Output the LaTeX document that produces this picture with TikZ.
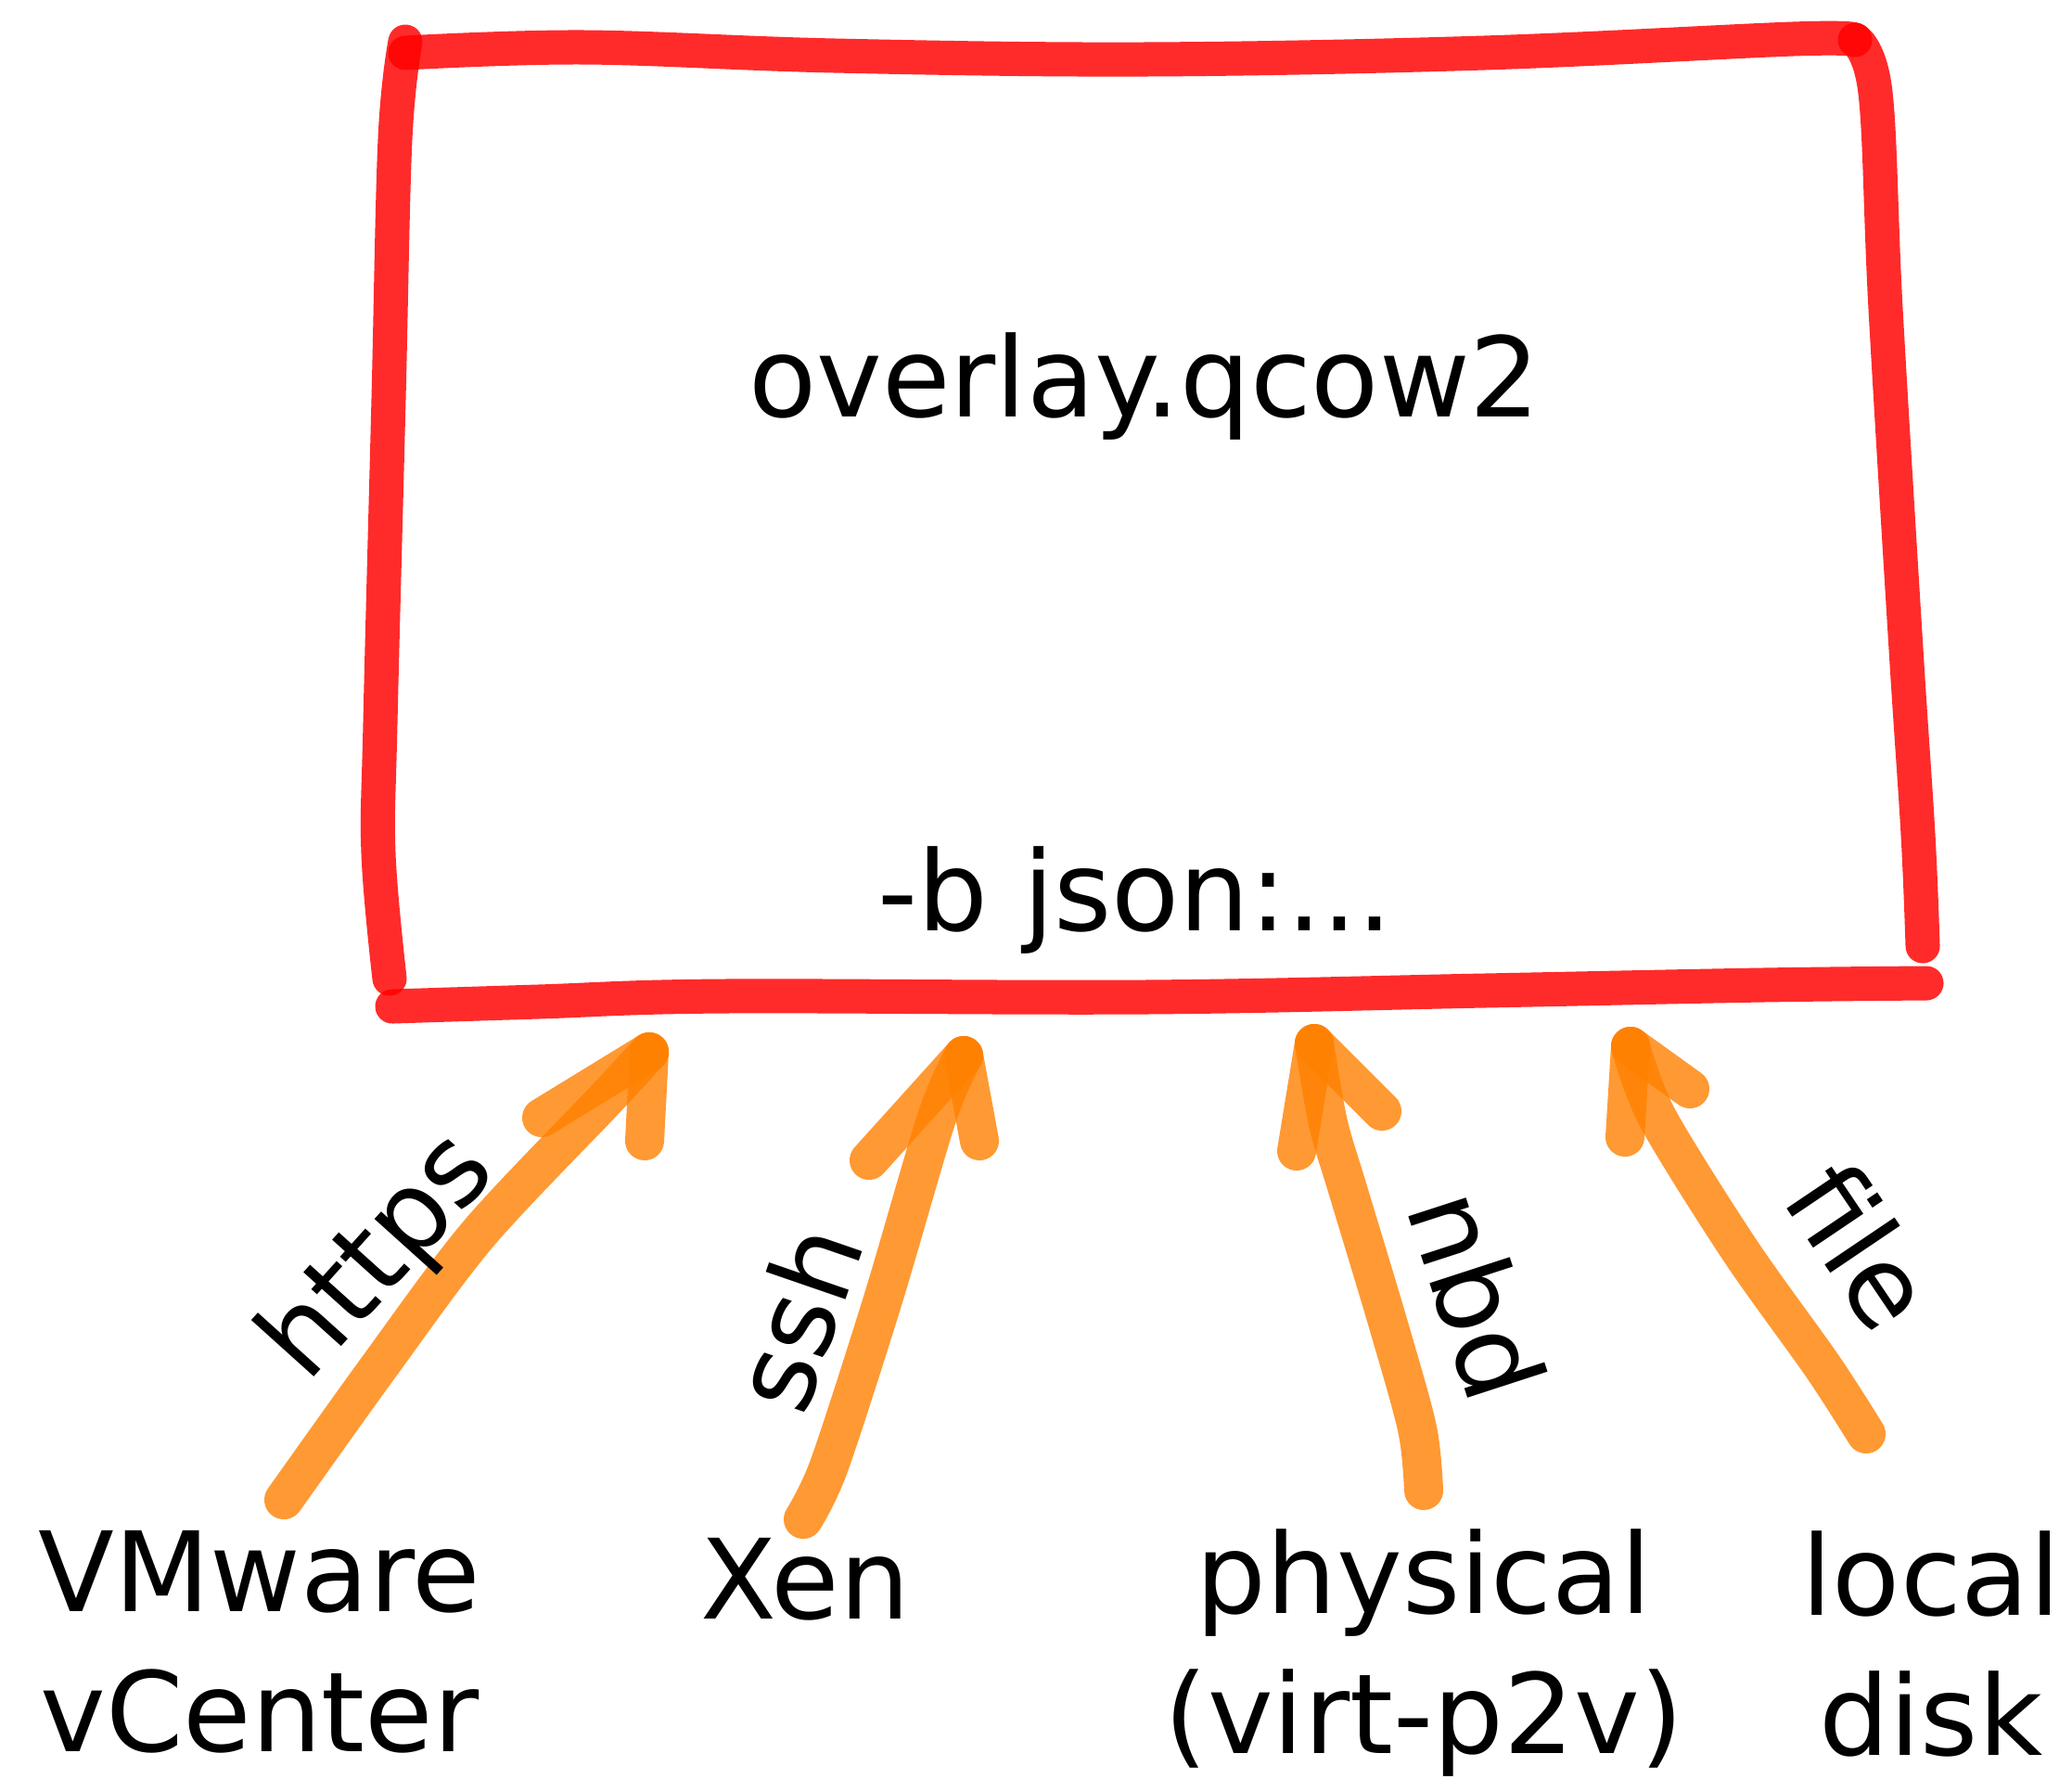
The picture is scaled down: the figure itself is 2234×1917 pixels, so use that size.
\documentclass[tikz,border=0pt]{standalone}
\usepackage{fontspec}
\setmainfont{DejaVu Sans}
\definecolor{boxred}{RGB}{255,0,0}
\definecolor{arrorange}{RGB}{255,128,0}
\tikzset{
  redstroke/.style={draw=boxred, draw opacity=0.83, line width=0.37cm, line cap=round, line join=round},
  orangestroke/.style={draw=arrorange, draw opacity=0.8, line width=0.42cm, line cap=round, line join=round},
  lbl/.style={font=\fontsize{34}{42.7}\selectfont, inner sep=0pt},
}
\begin{document}
\begin{tikzpicture}[x=0.01cm,y=-0.01cm]
\useasboundingbox (0,0) rectangle (2234,1917);
% box corners
\coordinate (tl) at (437,45);
\coordinate (tr) at (2000,43);
\coordinate (bl) at (423,1085);
\coordinate (br) at (2077,1060);
\coordinate (lend) at (420,1055);
\coordinate (rend) at (2073,1020);
% hand-drawn box
\draw[redstroke] plot[smooth, tension=0.6] coordinates {(437,57) (630,51) (900,60) (1233,64) (1600,57) (1933,42) (tr)};
\draw[redstroke] plot[smooth, tension=0.6] coordinates {(tl) (426,150) (419,430) (410,780) (408,920) (lend)};
\draw[redstroke] plot[smooth, tension=0.6] coordinates {(tr) (2022,100) (2033,333) (2055,700) (2068,900) (rend)};
\draw[redstroke] plot[smooth, tension=0.6] coordinates {(bl) (580,1080) (780,1074) (1233,1075) (1600,1068) (1900,1062) (br)};
% texts in the box
\node[lbl, anchor=base] (overlay) at (1234,449) {overlay.qcow2};
\node[lbl, anchor=base] (json) at (1224,1003) {-b json:...};
% sources (base = last line)
\node[lbl, anchor=base, align=center] (vmware) at (280,1888) {VMware\\vCenter};
\node[lbl, anchor=base] (xen) at (868,1745) {Xen};
\node[lbl, anchor=base, align=center] (physical) at (1535,1890) {physical\\(virt-p2v)};
\node[lbl, anchor=base, align=center] (local) at (2082,1892) {local\\disk};
% arrow ends
\coordinate (hS) at (306,1617); \coordinate (hT) at (700,1134);
\coordinate (sS) at (866,1638); \coordinate (sT) at (1039,1138);
\coordinate (nS) at (1535,1607); \coordinate (nT) at (1417,1125);
\coordinate (fS) at (2012,1546); \coordinate (fT) at (1758,1128);
% https
\draw[orangestroke] plot[smooth] coordinates {(hS) (409,1473) (516,1330) (651,1187) (hT)};
\draw[orangestroke] (hT) -- (584,1205);
\draw[orangestroke] (hT) -- (695,1230);
% ssh
\draw[orangestroke] plot[smooth] coordinates {(sS) (894,1580) (952,1401) (1010,1205) (sT)};
\draw[orangestroke] (sT) -- (937,1251);
\draw[orangestroke] (sT) -- (1056,1230);
% nbd
\draw[orangestroke] plot[smooth] coordinates {(nS) (1528,1540) (1496,1425) (1453,1282) (1432,1211) (nT)};
\draw[orangestroke] (nT) -- (1398,1241);
\draw[orangestroke] (nT) -- (1490,1198);
% file
\draw[orangestroke] plot[smooth] coordinates {(fS) (1965,1473) (1876,1348) (1787,1205) (fT)};
\draw[orangestroke] (fT) -- (1752,1226);
\draw[orangestroke] (fT) -- (1822,1174);
% arrow labels
\node[lbl, rotate=48] (https) at (410,1356) {https};
\node[lbl, rotate=71] (ssh) at (858,1420) {ssh};
\node[lbl, rotate=-72] (nbd) at (1593,1396) {nbd};
\node[lbl, rotate=-56] (file) at (2007,1343) {file};
\end{tikzpicture}
\end{document}
